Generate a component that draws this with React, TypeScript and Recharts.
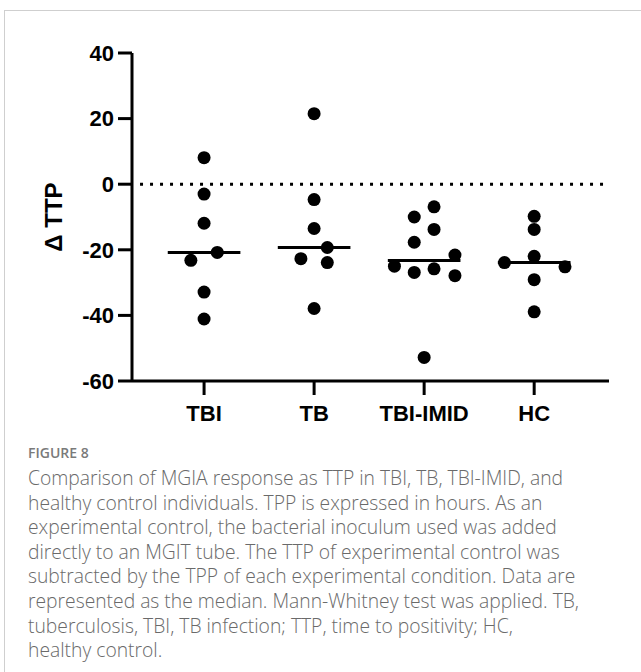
import { ScatterChart, Scatter, XAxis, YAxis, ReferenceLine } from "recharts";

// groups in plot order
const groups = ["TBI", "TB", "TBI-IMID", "HC"];

// delta TTP per subject (hours)
const tbiValues = [8.1, -3.0, -11.9, -20.8, -23.2, -32.9, -41.1];
const tbValues = [21.5, -4.7, -13.5, -19.3, -22.7, -23.9, -37.9];
const tbiImidValues = [-6.9, -10.0, -13.8, -17.7, -21.6, -25.0, -26.9, -25.8, -27.9, -52.8];
const hcValues = [-9.8, -13.8, -22.0, -23.9, -25.2, -29.1, -38.9];

// horizontal spread of the dots inside each column (category units)
const tbiJitter = [0, 0, 0, 0.12, -0.12, 0, 0];
const tbJitter = [0, 0, 0, 0.12, -0.12, 0.12, 0];
const tbiImidJitter = [0.09, -0.09, 0.09, -0.09, 0.28, -0.27, -0.09, 0.09, 0.28, 0];
const hcJitter = [0, 0, 0, -0.27, 0.28, 0, 0];

const yTicks = [-60, -40, -20, 0, 20, 40];

const captionLines = [
  "Comparison of MGIA response as TTP in TBI, TB, TBI-IMID, and",
  "healthy control individuals. TPP is expressed in hours. As an",
  "experimental control, the bacterial inoculum used was added",
  "directly to an MGIT tube. The TTP of experimental control was",
  "subtracted by the TPP of each experimental condition. Data are",
  "represented as the median. Mann-Whitney test was applied. TB,",
  "tuberculosis, TBI, TB infection; TTP, time to positivity; HC,",
  "healthy control.",
];

const allValues = [tbiValues, tbValues, tbiImidValues, hcValues];
const allJitter = [tbiJitter, tbJitter, tbiImidJitter, hcJitter];

const median = (arr: number[]) => {
  const s = [...arr].sort((a, b) => a - b);
  const m = Math.floor(s.length / 2);
  return s.length % 2 ? s[m] : (s[m - 1] + s[m]) / 2;
};

const points = allValues.flatMap((vals, gi) =>
  vals.map((v, i) => ({ x: gi + 1 + allJitter[gi][i], y: v }))
);

const tickFont = { fontFamily: "'Liberation Sans', Arial, sans-serif", fontWeight: 700, fontSize: 22, fill: "#000" };

const Dot = (props: any) => <circle cx={props.cx} cy={props.cy} r={6.5} fill="#000" />;

export default function App() {
  return (
    <div style={{ position: "absolute", left: 0, top: 0, width: 641, height: 672, background: "#fff" }}>
      <div
        style={{
          position: "absolute",
          left: 4,
          top: 10,
          width: 637,
          height: 662,
          borderLeft: "1px solid #cfcfcf",
          borderTop: "1px solid #cfcfcf",
        }}
      />
      <div style={{ position: "absolute", left: 0, top: 0 }}>
        <ScatterChart width={641} height={432} margin={{ top: 53, right: 32, bottom: 0, left: 0 }}>
          <XAxis
            type="number"
            dataKey="x"
            domain={[0.345, 4.68]}
            ticks={[1, 2, 3, 4]}
            allowDataOverflow
            tickFormatter={(v: number) => groups[v - 1]}
            height={51}
            tickSize={14}
            tickMargin={10}
            axisLine={{ stroke: "#000", strokeWidth: 3 }}
            tickLine={{ stroke: "#000", strokeWidth: 3 }}
            tick={tickFont}
          />
          <YAxis
            type="number"
            dataKey="y"
            domain={[-60, 40]}
            ticks={yTicks}
            width={132}
            tickSize={14}
            tickMargin={4}
            axisLine={{ stroke: "#000", strokeWidth: 3 }}
            tickLine={{ stroke: "#000", strokeWidth: 3 }}
            tick={tickFont}
            label={{
              value: "\u0394 TTP",
              angle: -90,
              position: "center",
              dx: -13,
              style: { ...tickFont, fontSize: 24, textAnchor: "middle" },
            }}
          />
          <ReferenceLine
            segment={[{ x: 0.418, y: 0 }, { x: 4.627, y: 0 }]}
            stroke="#000"
            strokeWidth={3}
            strokeDasharray="3 7"
          />
          <Scatter data={points} shape={<Dot />} isAnimationActive={false} />
          {allValues.map((vals, gi) => (
            <ReferenceLine
              key={groups[gi]}
              segment={[
                { x: gi + 1 - 0.33, y: median(vals) },
                { x: gi + 1 + 0.33, y: median(vals) },
              ]}
              stroke="#000"
              strokeWidth={3}
            />
          ))}
        </ScatterChart>
      </div>
      <div
        style={{
          position: "absolute",
          left: 28,
          top: 443,
          fontFamily: "'Open Sans', Lato, sans-serif",
          fontSize: 14,
          fontWeight: 600,
          color: "#7a7a7a",
        }}
      >
        FIGURE 8
      </div>
      <div
        style={{
          position: "absolute",
          left: 28,
          top: 466,
          fontFamily: "'Open Sans', Lato, sans-serif",
          fontSize: 19.3,
          fontWeight: 300,
          lineHeight: "24.6px",
          color: "#6a6a6a",
          whiteSpace: "nowrap",
        }}
      >
        {captionLines.map((l) => (
          <div key={l}>{l}</div>
        ))}
      </div>
    </div>
  );
}
